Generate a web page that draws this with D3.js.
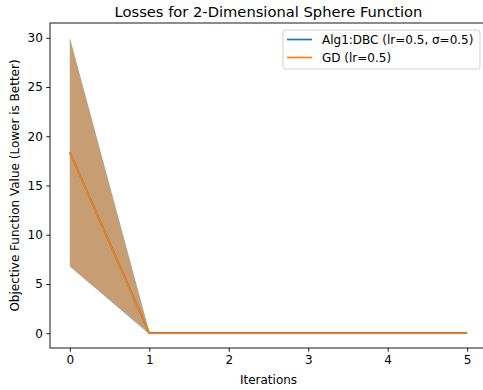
<!DOCTYPE html>
<html>
<head>
<meta charset="utf-8">
<script src="https://cdn.jsdelivr.net/npm/d3@7"></script>
<style>
  body { margin: 0; background: #fff; }
  svg text { font-family: "DejaVu Sans", sans-serif; fill: #000; }
</style>
</head>
<body>
<div id="chart"></div>
<script>
// data
const iterations = [0, 1, 2, 3, 4, 5];
const dbcMean = [18.37, 0.02, 0.02, 0.02, 0.02, 0.02];
const dbcStd  = [11.6, 0.12, 0.12, 0.12, 0.12, 0.12];
const gdMean  = [18.37, 0.0, 0.0, 0.0, 0.0, 0.0];
const gdStd   = [11.6, 0.0, 0.0, 0.0, 0.0, 0.0];
const xTicks = [0, 1, 2, 3, 4, 5];
const yTicks = [0, 5, 10, 15, 20, 25, 30];

const series = [
  {name: "Alg1:DBC (lr=0.5, \u03c3=0.5)", mean: dbcMean, std: dbcStd, color: "#1f77b4"},
  {name: "GD (lr=0.5)", mean: gdMean, std: gdStd, color: "#ff7f0e"}
];

const W = 483, H = 390;
const margin = {top: 23, right: -4, bottom: 42, left: 50};
const width = W - margin.left - margin.right;
const height = H - margin.top - margin.bottom;
const fs = "12px";

const svg = d3.select("#chart").append("svg")
  .attr("width", W).attr("height", H);

const g = svg.append("g")
  .attr("transform", "translate(" + margin.left + "," + margin.top + ")");

const x = d3.scaleLinear().domain([-0.25, 5.25]).range([0, width]);
const y = d3.scaleLinear().domain([-1.5, 31.5]).range([height, 0]);

// bands
series.forEach(function(s) {
  const area = d3.area()
    .x((d, i) => x(iterations[i]))
    .y0((d, i) => y(s.mean[i] - s.std[i]))
    .y1((d, i) => y(s.mean[i] + s.std[i]));
  g.append("path")
    .datum(s.mean)
    .attr("d", area)
    .attr("fill", s.color)
    .attr("fill-opacity", 0.5);
});

// lines
series.forEach(function(s) {
  const line = d3.line()
    .x((d, i) => x(iterations[i]))
    .y(d => y(d));
  g.append("path")
    .datum(s.mean)
    .attr("d", line)
    .attr("fill", "none")
    .attr("stroke", s.color)
    .attr("stroke-width", 1.7);
});

// axes
const xAxis = g.append("g")
  .attr("transform", "translate(0," + height + ")")
  .call(d3.axisBottom(x).tickValues(xTicks).tickFormat(d3.format("d")).tickSize(3.7).tickPadding(3.5));
const yAxis = g.append("g")
  .call(d3.axisLeft(y).tickValues(yTicks).tickFormat(d3.format("d")).tickSize(3.7).tickPadding(3.5));

[xAxis, yAxis].forEach(function(a) {
  a.select(".domain").remove();
  a.selectAll("line").attr("stroke", "#000").attr("stroke-width", 0.9);
  a.selectAll("text").style("font-size", fs).attr("fill", "#000");
});

// spines
g.append("rect")
  .attr("x", 0).attr("y", 0)
  .attr("width", width).attr("height", height)
  .attr("fill", "none")
  .attr("stroke", "#000")
  .attr("stroke-width", 0.9);

// title and labels
svg.append("text")
  .attr("x", margin.left + width / 2).attr("y", 17)
  .attr("text-anchor", "middle")
  .style("font-size", "14.7px")
  .text("Losses for 2-Dimensional Sphere Function");

svg.append("text")
  .attr("x", margin.left + width / 2).attr("y", 384)
  .attr("text-anchor", "middle")
  .style("font-size", fs)
  .text("Iterations");

svg.append("text")
  .attr("transform", "translate(19," + (margin.top + height / 2) + ") rotate(-90)")
  .attr("text-anchor", "middle")
  .style("font-size", fs)
  .text("Objective Function Value (Lower is Better)");

// legend
const legend = svg.append("g").attr("transform", "translate(283,30)");
legend.append("rect")
  .attr("width", 197).attr("height", 39)
  .attr("rx", 2.5)
  .attr("fill", "#fff").attr("fill-opacity", 0.8)
  .attr("stroke", "#ccc").attr("stroke-width", 0.9);

series.forEach(function(s, i) {
  const row = legend.append("g").attr("transform", "translate(0," + (9.5 + i * 18) + ")");
  row.append("line")
    .attr("x1", 4).attr("x2", 29)
    .attr("stroke", s.color).attr("stroke-width", 1.7);
  row.append("text")
    .attr("x", 39).attr("y", 4.3)
    .style("font-size", fs)
    .text(s.name);
});
</script>
</body>
</html>
